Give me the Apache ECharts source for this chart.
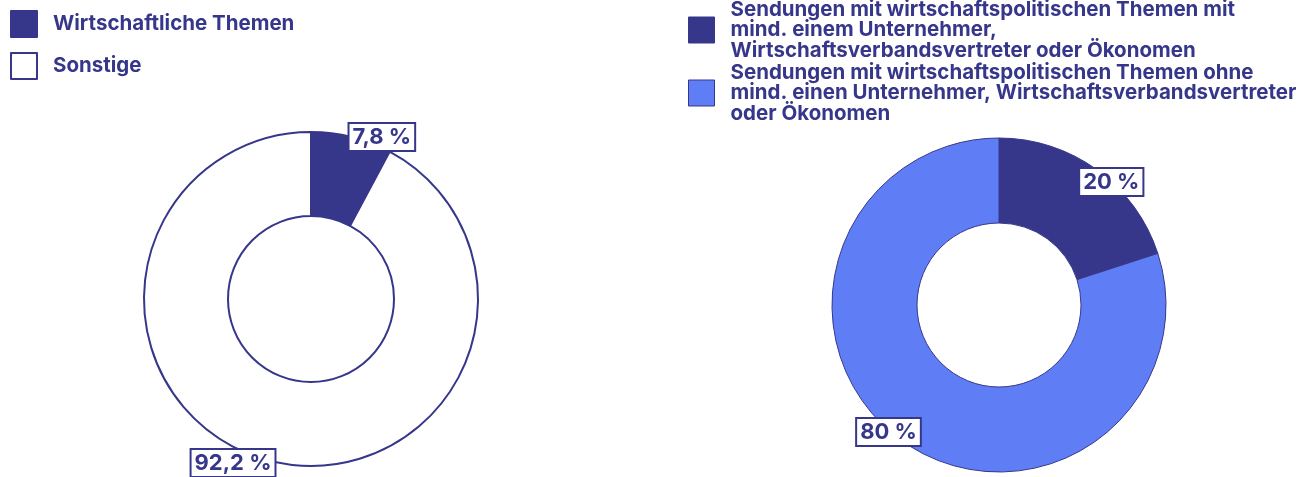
<!DOCTYPE html>
<html>
<head>
<meta charset="utf-8">
<script src="https://cdn.jsdelivr.net/npm/echarts@6/dist/echarts.min.js"></script>
<style>
  html, body { margin: 0; padding: 0; background: #fff; }
  #chart { width: 1315px; height: 477px; }
</style>
</head>
<body>
<div id="chart"></div>
<script>
const NAVY = '#36378a'
const BLUE = '#5f7ef5'

// left donut
const leftNames = ['Wirtschaftliche Themen', 'Sonstige']
const leftValues = [7.8, 92.2]
const leftLabels = ['7,8 %', '92,2 %']

// right donut
const rightNames = [
  'Sendungen mit wirtschaftspolitischen Themen mit\nmind. einem Unternehmer,\nWirtschaftsverbandsvertreter oder Ökonomen',
  'Sendungen mit wirtschaftspolitischen Themen ohne\nmind. einen Unternehmer, Wirtschaftsverbandsvertreter\noder Ökonomen'
]
const rightValues = [20, 80]
const rightLabels = ['20 %', '80 %']

const leftColors = [NAVY, '#ffffff']
const rightColors = [NAVY, BLUE]
const leftOffsets = [[-7, 0], [9, 2]]
const rightOffsets = [[-22, 12], [24, -8]]

const chart = echarts.init(document.getElementById('chart'))

const font = 'Inter, Roboto, sans-serif'

const labelStyle = {
  show: true,
  position: 'outside',
  color: NAVY,
  fontFamily: font,
  fontWeight: 'bold',
  fontSize: 22,
  backgroundColor: '#fff',
  borderColor: NAVY,
  borderWidth: 2,
  padding: [3, 3, 1, 3]
}

const buildData = (names, values, labels, colors, offsets) =>
  names.map((n, i) => ({
    name: n,
    value: values[i],
    itemStyle: { color: colors[i] },
    label: { formatter: labels[i], offset: offsets[i] }
  }))

const legendText = {
  color: NAVY,
  fontFamily: font,
  fontWeight: 'bold',
  fontSize: 20.5,
  lineHeight: 20.5,
  padding: [0, 0, 0, 11]
}

const option = {
  animation: false,
  legend: [
    {
      data: leftNames,
      orient: 'vertical',
      left: 10,
      top: 10,
      padding: 0,
      itemWidth: 26,
      itemHeight: 26,
      itemGap: 14,
      icon: 'rect',
      selectedMode: false,
      itemStyle: { borderColor: NAVY, borderWidth: 2 },
      textStyle: legendText
    },
    {
      data: rightNames,
      orient: 'vertical',
      left: 688,
      top: -1,
      padding: 0,
      itemWidth: 26,
      itemHeight: 26,
      itemGap: 1,
      icon: 'rect',
      selectedMode: false,
      itemStyle: { borderColor: NAVY, borderWidth: 1 },
      textStyle: legendText
    }
  ],
  series: [
    {
      type: 'pie',
      center: [311, 299],
      radius: [83, 167],
      startAngle: 90,
      clockwise: true,
      avoidLabelOverlap: false,
      itemStyle: { borderColor: NAVY, borderWidth: 2 },
      label: labelStyle,
      labelLine: { show: false, length: 0, length2: 0 },
      emphasis: { disabled: true },
      data: buildData(leftNames, leftValues, leftLabels, leftColors, leftOffsets)
    },
    {
      type: 'pie',
      center: [999, 305],
      radius: [82, 167],
      startAngle: 90,
      clockwise: true,
      avoidLabelOverlap: false,
      itemStyle: { borderColor: NAVY, borderWidth: 1 },
      label: labelStyle,
      labelLine: { show: false, length: 0, length2: 0 },
      emphasis: { disabled: true },
      data: buildData(rightNames, rightValues, rightLabels, rightColors, rightOffsets)
    }
  ]
}

chart.setOption(option)
</script>
</body>
</html>
